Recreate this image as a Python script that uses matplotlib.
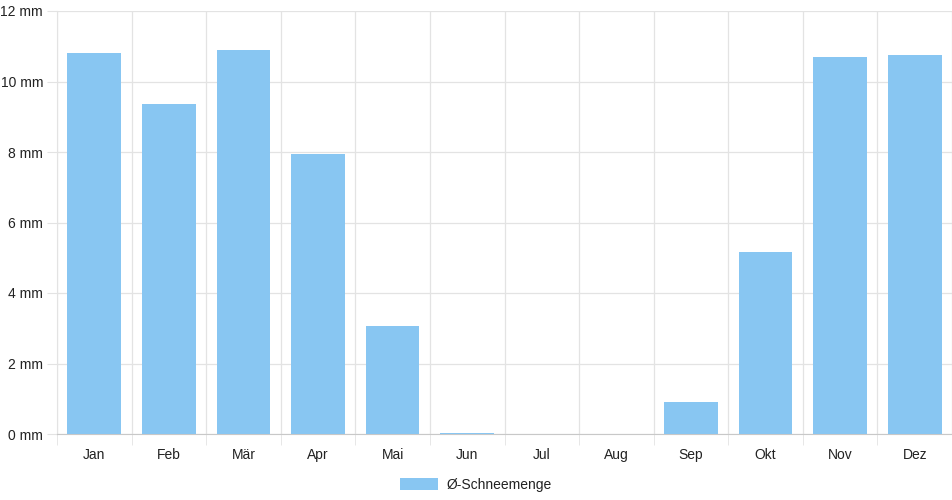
import matplotlib
matplotlib.use("Agg")
import matplotlib.pyplot as plt
from matplotlib.patches import Patch
import numpy as np

plt.rcParams['font.family'] = ['Liberation Sans', 'DejaVu Sans']

months = ["Jan", "Feb", "Mär", "Apr", "Mai", "Jun",
          "Jul", "Aug", "Sep", "Okt", "Nov", "Dez"]
snow_mm = [10.8, 9.37, 10.9, 7.95, 3.07, 0.03,
           0.0, 0.0, 0.91, 5.17, 10.7, 10.75]
y_ticks = [0, 2, 4, 6, 8, 10, 12]
series_label = "Ø-Schneemenge"

bar_color = "#88c6f2"
grid_color = "#e3e3e3"
text_color = "#222222"

fig = plt.figure(figsize=(9.52, 5.0), dpi=100)
ax = fig.add_axes([57 / 952, 66 / 500, 895 / 952, 423 / 500])

x = np.arange(len(months))
ax.bar(x, snow_mm, width=0.72, color=bar_color, zorder=3)

ax.set_xlim(-0.5, len(months) - 0.5)
ax.set_ylim(0, 12)

ax.set_yticks(y_ticks)
ax.set_yticklabels(["{0} mm".format(v) for v in y_ticks])
ax.set_xticks(x)
ax.set_xticklabels(months)
ax.set_xticks(np.arange(-0.5, len(months), 1.0), minor=True)

ax.tick_params(axis="y", which="major", length=7, color=grid_color,
               labelsize=10, labelcolor=text_color, pad=3)
ax.tick_params(axis="x", which="major", length=0,
               labelsize=10, labelcolor=text_color, pad=10)
ax.tick_params(axis="x", which="minor", length=8, color=grid_color)

ax.grid(axis="y", which="major", color=grid_color, linewidth=0.9, zorder=0)
ax.grid(axis="x", which="minor", color=grid_color, linewidth=0.9, zorder=0)
ax.grid(axis="x", which="major", visible=False)

for side in ["top", "right"]:
    ax.spines[side].set_visible(False)
ax.spines["left"].set_color(grid_color)
ax.spines["bottom"].set_color("#c8c8c8")

handle = Patch(facecolor=bar_color, edgecolor="none", label=series_label)
fig.legend(handles=[handle], loc="lower center", bbox_to_anchor=(0.5, -0.008),
           frameon=False, fontsize=10, handlelength=2.7, handleheight=0.95,
           handletextpad=0.6, labelcolor=text_color)

fig.savefig("out.png", dpi=100)
